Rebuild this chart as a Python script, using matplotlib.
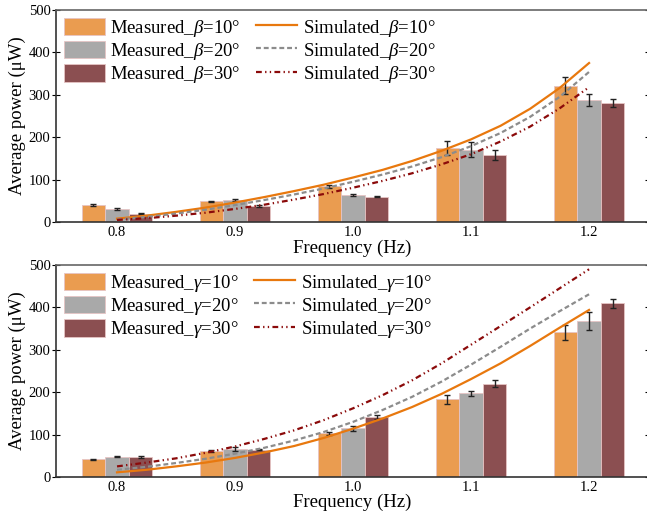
import numpy as np
from matplotlib import pyplot as plt
from matplotlib import rc

# serif font, Greek letters in italic through mathtext
rc('font', family='Liberation Serif')
rc('mathtext', fontset='custom', rm='Liberation Serif', it='Liberation Serif:italic')

freq = [0.8, 0.9, 1.0, 1.1, 1.2]
freq_sim = [0.8, 0.825, 0.85, 0.875, 0.9, 0.925, 0.95, 0.975, 1.0,
            1.025, 1.05, 1.075, 1.1, 1.125, 1.15, 1.175, 1.2]
angles = [10, 20, 30]

# measured power (uW) and error, tilt angle beta
beta_meas_10 = [40, 49, 84, 174, 321]
beta_meas_20 = [31, 52, 64, 171, 288]
beta_meas_30 = [20, 38, 60, 158, 280]
beta_err_10 = [1.5, 1.5, 3, 17, 20]
beta_err_20 = [1.5, 3, 3, 18, 14]
beta_err_30 = [1.5, 1.5, 1, 11, 9]
beta_sim_10 = [8, 15, 24, 34, 46, 59, 73, 88, 105, 123, 144, 168, 195, 227, 267, 316, 375]
beta_sim_20 = [6, 12, 20, 29, 40, 52, 65, 79, 95, 112, 131, 153, 179, 210, 248, 295, 354]
beta_sim_30 = [5, 9, 15, 22, 31, 41, 53, 66, 81, 97, 115, 136, 160, 190, 225, 268, 318]

# measured power (uW) and error, angle gamma
gamma_meas_10 = [42, 62, 103, 183, 341]
gamma_meas_20 = [48, 66, 115, 198, 368]
gamma_meas_30 = [47, 64, 142, 220, 410]
gamma_err_10 = [1, 2, 3, 11, 18]
gamma_err_20 = [2, 4, 6, 6, 21]
gamma_err_30 = [2, 1, 5, 8, 11]
gamma_sim_10 = [11, 17, 25, 34, 45, 58, 73, 92, 114, 138, 165, 196, 231, 268, 309, 352, 394]
gamma_sim_20 = [17, 24, 33, 43, 55, 69, 86, 106, 130, 158, 189, 225, 265, 307, 350, 391, 431]
gamma_sim_30 = [25, 34, 44, 57, 72, 90, 110, 134, 162, 193, 228, 268, 312, 356, 400, 445, 490]

bar_colors = ['#EA9C50', '#A9A9A9', '#8B4F51']
line_colors = ['#E8780E', '#8C8C8C', '#8B0A0A']
line_styles = ['-', (0, (2.2, 1.3)), (0, (2.6, 1.5, 0.6, 1.5, 0.6, 1.5))]
width = 0.02


def panel(ax, meas, errs, sims, symbol):
    x = np.array(freq)
    bars, lines = [], []
    for i, (m, e) in enumerate(zip(meas, errs)):
        b = ax.bar(x + (i - 1) * width, m, width, color=bar_colors[i],
                   edgecolor='#E6C4C4', linewidth=0.6,
                   label='Measured_$\\%s$=%d°' % (symbol, angles[i]))
        ax.errorbar(x + (i - 1) * width, m, yerr=e, fmt='none',
                    ecolor='#222222', elinewidth=1, capsize=2.5, capthick=1)
        bars.append(b)
    for i, s in enumerate(sims):
        l, = ax.plot(freq_sim, s, color=line_colors[i], linestyle=line_styles[i],
                     linewidth=1.6,
                     label='Simulated_$\\%s$=%d°' % (symbol, angles[i]))
        lines.append(l)

    ax.set_xlim(0.7483, 1.2508)
    ax.set_ylim(0, 500)
    ax.set_xticks(freq)
    ax.set_xticklabels(['0.8', '0.9', '1.0', '1.1', '1.2'])
    ax.set_yticks(range(0, 501, 100))
    ax.tick_params(axis='x', length=0, labelsize=10.5, pad=3)
    ax.tick_params(axis='y', direction='inout', length=6, labelsize=10.5,
                   right=True, pad=1)
    ax.set_xlabel('Frequency (Hz)', fontsize=13.5, labelpad=0)
    ax.set_ylabel('Average power (μW)', fontsize=13.5, labelpad=2)
    for sp in ax.spines.values():
        sp.set_color('#333333')
        sp.set_linewidth(1.2)
    ax.spines['top'].set_color('#666666')

    ax.legend(handles=bars + lines, ncol=2, loc='upper left', frameon=False,
              fontsize=13.5, handlelength=2.2, handleheight=1.05,
              handletextpad=0.3, columnspacing=0.8, labelspacing=0.12,
              borderaxespad=0.2, borderpad=0.2)


fig = plt.figure(figsize=(6.47, 5.14), dpi=100)
ax1 = fig.add_axes([0.0866, 0.568, 0.9165, 0.4125])
ax2 = fig.add_axes([0.0866, 0.072, 0.9165, 0.4124])

panel(ax1, [beta_meas_10, beta_meas_20, beta_meas_30],
      [beta_err_10, beta_err_20, beta_err_30],
      [beta_sim_10, beta_sim_20, beta_sim_30], 'beta')
panel(ax2, [gamma_meas_10, gamma_meas_20, gamma_meas_30],
      [gamma_err_10, gamma_err_20, gamma_err_30],
      [gamma_sim_10, gamma_sim_20, gamma_sim_30], 'gamma')

plt.savefig('out.png', dpi=100)
